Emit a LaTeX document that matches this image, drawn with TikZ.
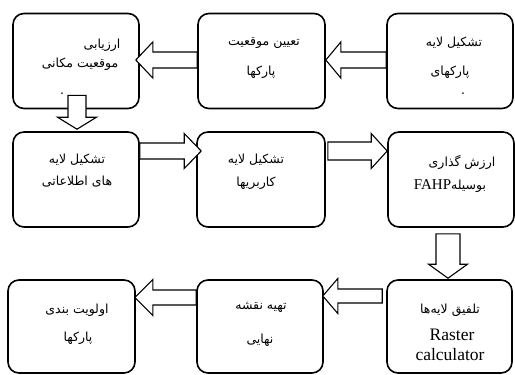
\documentclass[tikz,border=0pt]{standalone}
\usepackage{fontspec}
\setmainfont{Liberation Serif}
\newfontfamily\arabicfont[Script=Arabic]{DejaVu Sans}
\TeXXeTstate=1
\usetikzlibrary{calc}
\tikzset{
 box/.style={draw, line width=1.6pt, rounded corners=11pt, minimum width=126pt, minimum height=95pt, inner sep=0pt},
 fa/.style={font=\arabicfont\fontsize{12.5}{14}\selectfont, inner sep=0pt},
 la/.style={font=\fontsize{17.5}{20}\selectfont, inner sep=0pt},
 barrow/.style n args={3}{draw, fill=white, line width=1.1pt, line join=miter, to path={
   ($(\tikztotarget)!#3!(\tikztostart)$) coordinate (bb)
   ($(\tikztostart)!#1!90:(\tikztotarget)$)
   -- ($(bb)!#1!90:(\tikztotarget)$)
   -- ($(bb)!#2!90:(\tikztotarget)$)
   -- (\tikztotarget)
   -- ($(bb)!#2!-90:(\tikztotarget)$)
   -- ($(bb)!#1!-90:(\tikztotarget)$)
   -- ($(\tikztostart)!#1!-90:(\tikztotarget)$) -- cycle}}
}
\begin{document}
\begin{tikzpicture}[x=1pt,y=-1pt]
\useasboundingbox (0,0) rectangle (515,375);
% boxes
\node[box] (A) at (76,61) {};
\node[box, minimum width=127pt] (B) at (261.5,61) {};
\node[box] (C) at (450,61) {};
\node[box] (D) at (76,179.5) {};
\node[box, minimum width=128pt] (E) at (261,179.5) {};
\node[box] (F) at (451,179.5) {};
\node[box, minimum height=93pt, minimum width=127pt] (I) at (71.5,326.5) {};
\node[box, minimum height=93pt] (H) at (260,326.5) {};
\node[box, minimum height=93pt, minimum width=125pt] (G) at (449.5,326.5) {};
% block arrows
\draw[barrow={8pt}{18pt}{15pt}] ([yshift=1pt]C.west) to ([yshift=1pt]B.east);
\draw[barrow={8pt}{18pt}{17pt}] ([yshift=1pt]B.west) to ([xshift=-4pt,yshift=1pt]A.east);
\draw[barrow={9pt}{19.5pt}{12pt}] ([xshift=1pt,yshift=14pt]A.south) to ([xshift=1pt,yshift=2pt]D.north);
\draw[barrow={8pt}{17.5pt}{17pt}] ([yshift=28.5pt]D.east) to ([xshift=5pt,yshift=28.5pt]E.west);
\draw[barrow={9pt}{17.5pt}{16pt}] ([xshift=2pt,yshift=28.5pt]E.east) to ([yshift=28.5pt]F.west);
\draw[barrow={12pt}{19.5pt}{14pt}] ([xshift=-3pt,yshift=-6pt]F.south) to ([xshift=-1.5pt,yshift=1pt]G.north);
\draw[barrow={7pt}{17.5pt}{15pt}] ([xshift=-4pt,yshift=30.5pt]G.west) to ([xshift=-1pt,yshift=30.5pt]H.east);
\draw[barrow={7.5pt}{18pt}{18pt}] ([yshift=29pt]H.west) to ([xshift=-1pt,yshift=29pt]I.east);
% texts
\node[fa] (a1) at (102,45) {\beginR ارزیابی\endR};
\node[fa] (a2) at (80,64) {\beginR موقعیت مکانی\endR};
\node[fa] (a3) at (62,94) {.};
\node[fa] (b1) at (264,43) {\beginR تعیین موقعیت\endR};
\node[fa] (b2) at (261,72) {\beginR پارکها\endR};
\node[fa] (c1) at (454,43) {\beginR تشکیل لایه\endR};
\node[fa] (c2) at (450,72) {\beginR پارکهای\endR};
\node[fa] (c3) at (463,94) {.};
\node[fa] (d1) at (77,160) {\beginR تشکیل لایه\endR};
\node[fa] (d2) at (77,182) {\beginR های اطلاعاتی\endR};
\node[fa] (e1) at (256,160) {\beginR تشکیل لایه\endR};
\node[fa] (e2) at (256,183) {\beginR کاربریها\endR};
\node[fa] (f1) at (462,162) {\beginR ارزش گذاری\endR};
\node[fa] (f2) at (450,186) {\beginR بوسیله\beginL{\rmfamily\fontsize{15}{17}\selectfont FAHP}\endL\endR};
\node[fa] (g1) at (450,310) {\beginR تلفیق لایه‌ها\endR};
\node[la] (g2) at (452,335) {Raster};
\node[la] (g3) at (450,355) {calculator};
\node[fa] (h1) at (261,307) {\beginR تهیه نقشه\endR};
\node[fa] (h2) at (260,340) {\beginR نهایی\endR};
\node[fa] (i1) at (77,310) {\beginR اولویت بندی\endR};
\node[fa] (i2) at (78,338) {\beginR پارکها\endR};
\end{tikzpicture}
\end{document}
